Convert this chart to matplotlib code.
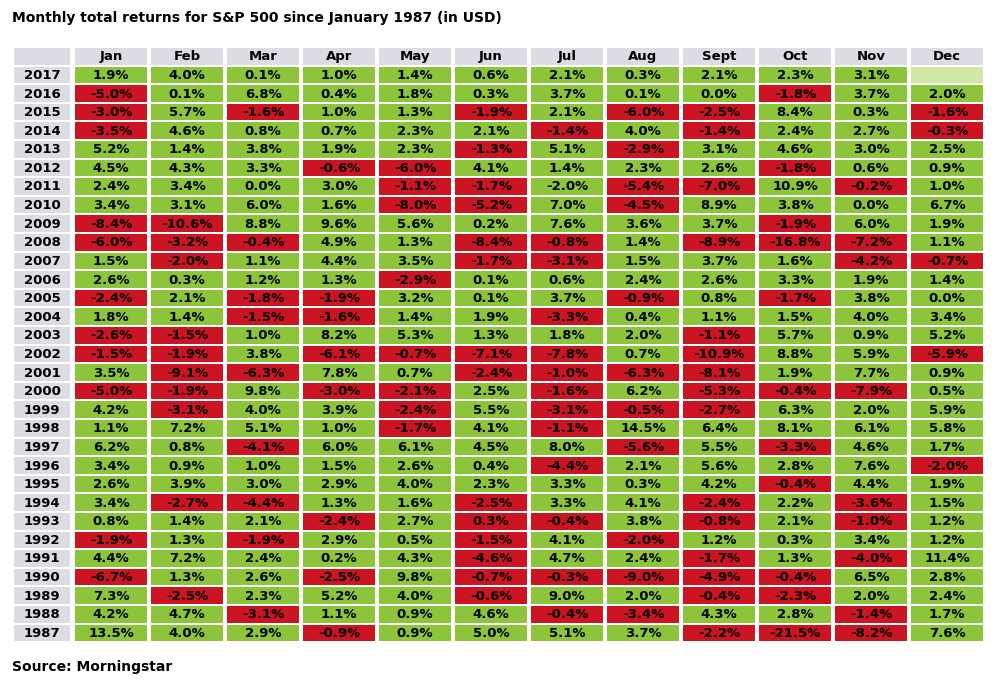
import numpy as np
import matplotlib.pyplot as plt
from matplotlib.patches import Rectangle

months = ["Jan", "Feb", "Mar", "Apr", "May", "Jun", "Jul", "Aug", "Sept", "Oct", "Nov", "Dec"]
years = list(range(2017, 1986, -1))
returns = [
    [1.9, 4.0, 0.1, 1.0, 1.4, 0.6, 2.1, 0.3, 2.1, 2.3, 3.1, None],
    [-5.0, 0.1, 6.8, 0.4, 1.8, 0.3, 3.7, 0.1, 0.0, -1.8, 3.7, 2.0],
    [-3.0, 5.7, -1.6, 1.0, 1.3, -1.9, 2.1, -6.0, -2.5, 8.4, 0.3, -1.6],
    [-3.5, 4.6, 0.8, 0.7, 2.3, 2.1, -1.4, 4.0, -1.4, 2.4, 2.7, -0.3],
    [5.2, 1.4, 3.8, 1.9, 2.3, -1.3, 5.1, -2.9, 3.1, 4.6, 3.0, 2.5],
    [4.5, 4.3, 3.3, -0.6, -6.0, 4.1, 1.4, 2.3, 2.6, -1.8, 0.6, 0.9],
    [2.4, 3.4, 0.0, 3.0, -1.1, -1.7, -2.0, -5.4, -7.0, 10.9, -0.2, 1.0],
    [3.4, 3.1, 6.0, 1.6, -8.0, -5.2, 7.0, -4.5, 8.9, 3.8, 0.0, 6.7],
    [-8.4, -10.6, 8.8, 9.6, 5.6, 0.2, 7.6, 3.6, 3.7, -1.9, 6.0, 1.9],
    [-6.0, -3.2, -0.4, 4.9, 1.3, -8.4, -0.8, 1.4, -8.9, -16.8, -7.2, 1.1],
    [1.5, -2.0, 1.1, 4.4, 3.5, -1.7, -3.1, 1.5, 3.7, 1.6, -4.2, -0.7],
    [2.6, 0.3, 1.2, 1.3, -2.9, 0.1, 0.6, 2.4, 2.6, 3.3, 1.9, 1.4],
    [-2.4, 2.1, -1.8, -1.9, 3.2, 0.1, 3.7, -0.9, 0.8, -1.7, 3.8, 0.0],
    [1.8, 1.4, -1.5, -1.6, 1.4, 1.9, -3.3, 0.4, 1.1, 1.5, 4.0, 3.4],
    [-2.6, -1.5, 1.0, 8.2, 5.3, 1.3, 1.8, 2.0, -1.1, 5.7, 0.9, 5.2],
    [-1.5, -1.9, 3.8, -6.1, -0.7, -7.1, -7.8, 0.7, -10.9, 8.8, 5.9, -5.9],
    [3.5, -9.1, -6.3, 7.8, 0.7, -2.4, -1.0, -6.3, -8.1, 1.9, 7.7, 0.9],
    [-5.0, -1.9, 9.8, -3.0, -2.1, 2.5, -1.6, 6.2, -5.3, -0.4, -7.9, 0.5],
    [4.2, -3.1, 4.0, 3.9, -2.4, 5.5, -3.1, -0.5, -2.7, 6.3, 2.0, 5.9],
    [1.1, 7.2, 5.1, 1.0, -1.7, 4.1, -1.1, 14.5, 6.4, 8.1, 6.1, 5.8],
    [6.2, 0.8, -4.1, 6.0, 6.1, 4.5, 8.0, -5.6, 5.5, -3.3, 4.6, 1.7],
    [3.4, 0.9, 1.0, 1.5, 2.6, 0.4, -4.4, 2.1, 5.6, 2.8, 7.6, -2.0],
    [2.6, 3.9, 3.0, 2.9, 4.0, 2.3, 3.3, 0.3, 4.2, -0.4, 4.4, 1.9],
    [3.4, -2.7, -4.4, 1.3, 1.6, -2.5, 3.3, 4.1, -2.4, 2.2, -3.6, 1.5],
    [0.8, 1.4, 2.1, -2.4, 2.7, 0.3, -0.4, 3.8, -0.8, 2.1, -1.0, 1.2],
    [-1.9, 1.3, -1.9, 2.9, 0.5, -1.5, 4.1, -2.0, 1.2, 0.3, 3.4, 1.2],
    [4.4, 7.2, 2.4, 0.2, 4.3, -4.6, 4.7, 2.4, -1.7, 1.3, -4.0, 11.4],
    [-6.7, 1.3, 2.6, -2.5, 9.8, -0.7, -0.3, -9.0, -4.9, -0.4, 6.5, 2.8],
    [7.3, -2.5, 2.3, 5.2, 4.0, -0.6, 9.0, 2.0, -0.4, -2.3, 2.0, 2.4],
    [4.2, 4.7, -3.1, 1.1, 0.9, 4.6, -0.4, -3.4, 4.3, 2.8, -1.4, 1.7],
    [13.5, 4.0, 2.9, -0.9, 0.9, 5.0, 5.1, 3.7, -2.2, -21.5, -8.2, 7.6],
]
# cells coloured against their sign in the source
green_override = [(2011, "Jul"), (1998, "Aug")]
red_override = [(1993, "Jun")]

GREEN = "#8cc43a"
RED = "#cc1422"
GREY = "#dcdce4"

fig = plt.figure(figsize=(9.95, 6.93), dpi=100)
ax = fig.add_axes([0, 0, 1, 1])
ax.set_xlim(0, 995)
ax.set_ylim(693, 0)
ax.axis("off")

x0, yw = 12, 60          # year column
cx0 = 73
cw = (985 - cx0) / 12    # month columns
y0, rh = 47, 18.6        # header top, row height
pad = 3.5

def cell(x, y, w, h, color, text):
    ax.add_patch(Rectangle((x + pad / 2, y + 1), w - pad, h - 2, color=color, lw=0))
    if text:
        ax.text(x + w / 2, y + h / 2 + 0.5, text, ha="center", va="center",
                fontsize=9.5, fontweight="bold", color="black")

cell(x0, y0, yw, rh, GREY, "")
for j, m in enumerate(months):
    cell(cx0 + j * cw, y0, cw, rh, GREY, m)

for i, yr in enumerate(years):
    y = y0 + (i + 1) * rh
    cell(x0, y, yw, rh, GREY, str(yr))
    for j, m in enumerate(months):
        v = returns[i][j]
        x = cx0 + j * cw
        if v is None:
            cell(x, y, cw, rh, "#cfe8a4", "")
            continue
        neg = v < 0
        if (yr, m) in green_override:
            neg = False
        if (yr, m) in red_override:
            neg = True
        cell(x, y, cw, rh, RED if neg else GREEN, f"{v:.1f}%")

ax.text(12, 18, "Monthly total returns for S&P 500 since January 1987 (in USD)",
        fontsize=10, fontweight="bold", va="center")
ax.text(12, 667, "Source: Morningstar", fontsize=10, fontweight="bold", va="center")

fig.savefig("out.png", dpi=100)
